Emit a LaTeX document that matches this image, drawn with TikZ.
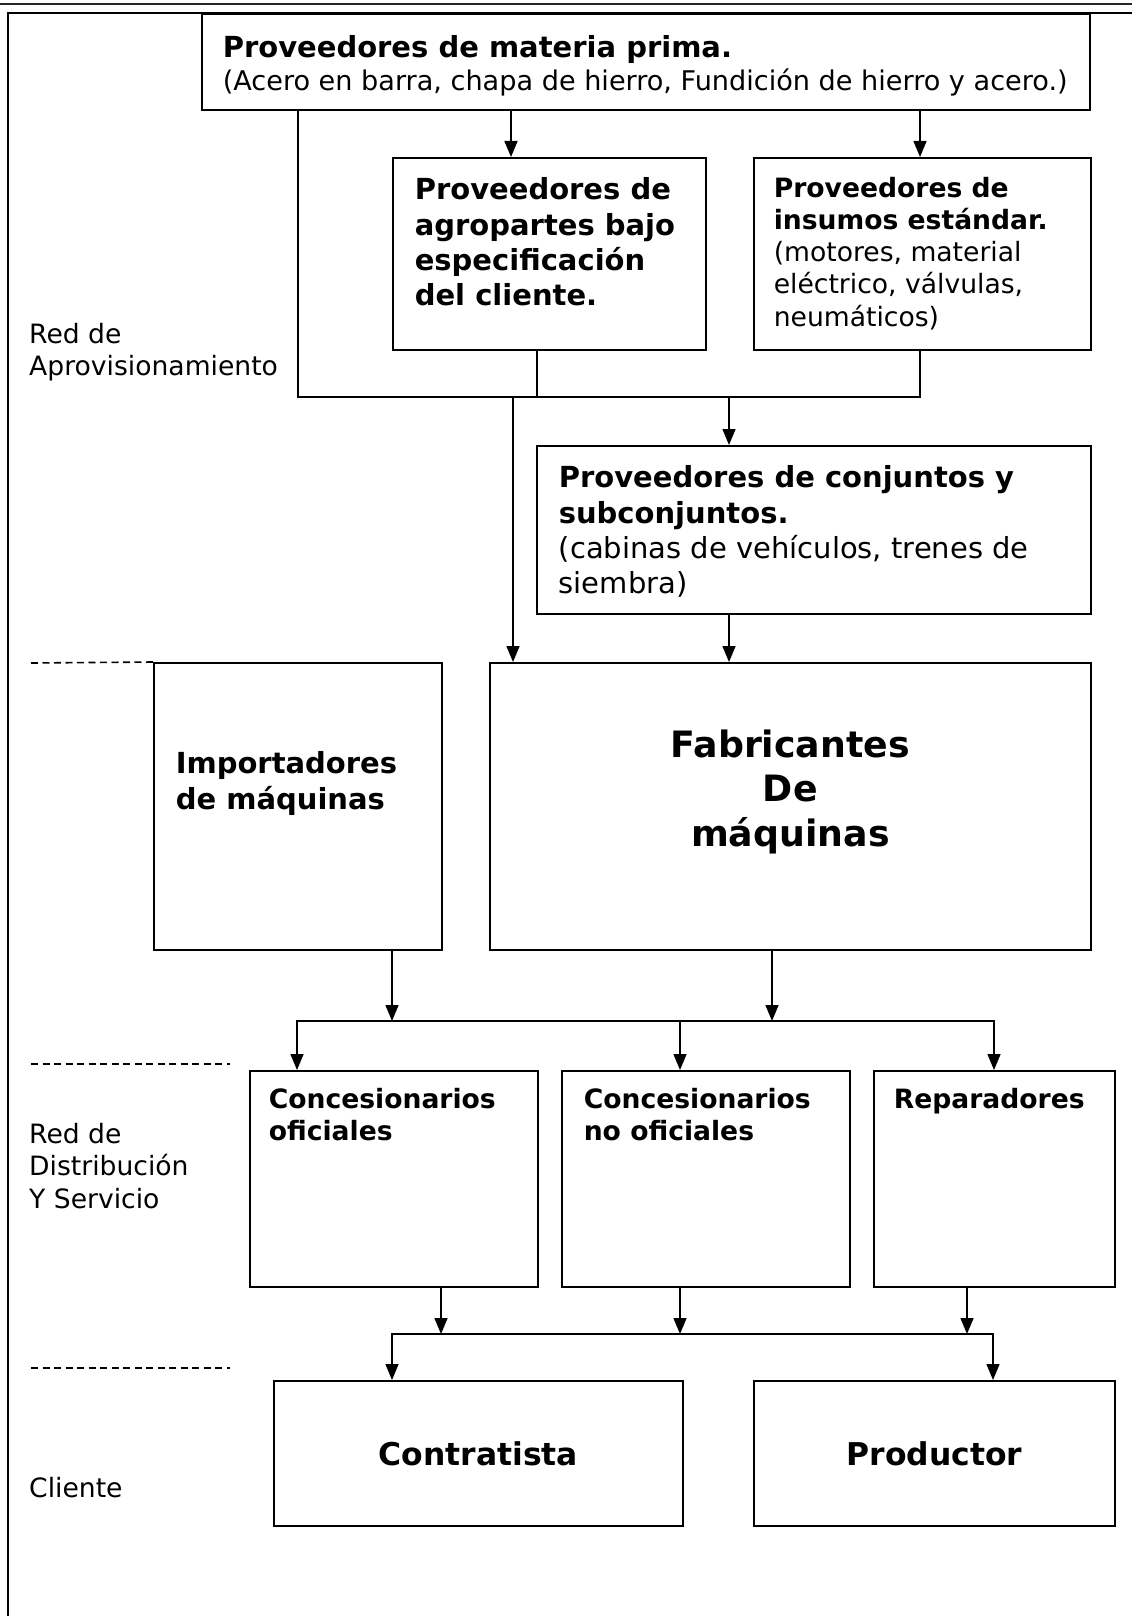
\documentclass[tikz,border=0pt]{standalone}
\usepackage{fontspec}
\setmainfont{DejaVu Sans}
\usepackage{tikz}
\usetikzlibrary{arrows.meta, positioning, calc}

% font sizes (Word points scaled to the picture)
\newcommand{\tamOnce}{\fontsize{26.6pt}{32.3pt}\selectfont}
\newcommand{\tamDoce}{\fontsize{29pt}{35.2pt}\selectfont}
\newcommand{\tamTrece}{\fontsize{31.4pt}{38pt}\selectfont}
\newcommand{\tamQuince}{\fontsize{36.3pt}{44.5pt}\selectfont}
% box text: width, height, top pad, left pad, text
\newcommand{\cajatxt}[5]{\parbox[c][#2][t]{#1}{\vspace*{#3}\raggedright\leftskip=#4\relax #5\par}}
\newcommand{\cajacentro}[4]{\parbox[c][#2][t]{#1}{\vspace*{#3}\centering #4\par}}

\begin{document}
\begin{tikzpicture}[
    x=1pt, y=1pt,
    caja/.style={rectangle, draw=black, line width=1.6pt, anchor=north west, inner sep=0pt},
    rotulo/.style={anchor=north west, inner sep=0pt, align=left, font=\tamOnce},
    flecha/.style={-{Triangle[length=16pt, width=13pt]}, line width=1.5pt},
    linea/.style={line width=1.5pt},
    separador/.style={line width=1.6pt, dash pattern=on 7pt off 4.5pt}
]

\useasboundingbox (0,0) rectangle (1132,-1616);

% Frame
\draw [line width=1.2pt, black!85] (0,-4) -- (1132,-4);
\draw [line width=1.6pt] (8,-1616) -- (8,-13) -- (1132,-13);

% Nodes
\node (materia) [caja] at (201,-13) {\cajatxt{888pt}{96pt}{22pt}{21pt}{{\tamDoce\bfseries Proveedores de materia prima.\par}{\fontsize{27.1pt}{32.3pt}\selectfont (Acero en barra, chapa de hierro, Fundición de hierro y acero.)\par}}};
\node (agro) [caja] at (392,-157) {\cajatxt{313pt}{192pt}{20pt}{22pt}{\tamDoce\bfseries Proveedores de\\agropartes bajo\\especificación\\del cliente.}};
\node (insumos) [caja] at (753,-157) {\cajatxt{337pt}{192pt}{19pt}{20pt}{\tamOnce\textbf{Proveedores de\\insumos estándar.}\\(motores, material\\eléctrico, válvulas,\\neumáticos)}};
\node (conjuntos) [caja] at (536,-445) {\cajatxt{554pt}{168pt}{20pt}{22pt}{\tamDoce\textbf{Proveedores de conjuntos y\\subconjuntos.}\\(cabinas de vehículos, trenes de\\siembra)}};

\node (importadores) [caja] at (153,-662) {\cajatxt{288pt}{287pt}{89pt}{22pt}{\tamDoce\bfseries Importadores\\de máquinas}};
\node (fabricantes) [caja] at (489,-662) {\cajacentro{601pt}{287pt}{67pt}{\tamQuince\bfseries Fabricantes\\De\\máquinas}};

\node (oficiales) [caja] at (249,-1070) {\cajatxt{288pt}{216pt}{17pt}{19pt}{\tamOnce\bfseries Concesionarios\\oficiales}};
\node (nooficiales) [caja] at (561,-1070) {\cajatxt{288pt}{216pt}{17pt}{22pt}{\tamOnce\bfseries Concesionarios\\no oficiales}};
\node (reparadores) [caja] at (873,-1070) {\cajatxt{241pt}{216pt}{17pt}{20pt}{\tamOnce\bfseries Reparadores}};

\node (contratista) [caja, minimum width=409pt, minimum height=145pt, font=\tamTrece\bfseries] at (273,-1380) {Contratista};
\node (productor) [caja, minimum width=361pt, minimum height=145pt, font=\tamTrece\bfseries] at (753,-1380) {Productor};

% Labels on the left
\node (aprov) [rotulo] at (29,-323) {Red de\\Aprovisionamiento};
\node (distrib) [rotulo] at (29,-1123) {Red de\\Distribución\\Y Servicio};
\node (cliente) [rotulo] at (29,-1477) {Cliente};

% Separators
\draw [separador] (31,-663) -- (importadores.north west);
\draw [separador] (31,-1064) -- (230,-1064);
\draw [separador] (31,-1368) -- (230,-1368);

% Columns and buses
\coordinate (colIzq) at (298,0);
\coordinate (colAgro) at (511,0);
\coordinate (colIns) at (920,0);
\coordinate (colBajo) at (537,0);
\coordinate (colFab) at (513,0);
\coordinate (colConj) at (729,0);
\coordinate (colImp) at (392,0);
\coordinate (colFab2) at (772,0);
\coordinate (colNoOf) at (680,0);
\coordinate (colOf2) at (441,0);
\coordinate (colRep2) at (967,0);
\coordinate (bus1) at (0,-397);
\coordinate (bus2a) at (297,-1021);
\coordinate (bus2b) at (994,-1021);
\coordinate (bus3a) at (392,-1334);
\coordinate (bus3b) at (993,-1334);

% Arrows - supply
\draw [linea] (materia.south -| colIzq) -- (colIzq |- bus1) -- (colIns |- bus1) -- (insumos.south -| colIns);
\draw [flecha] (materia.south -| colAgro) -- (agro.north -| colAgro);
\draw [flecha] (materia.south -| colIns) -- (insumos.north -| colIns);
\draw [linea] (agro.south -| colBajo) -- (colBajo |- bus1);
\draw [flecha] (colFab |- bus1) -- (fabricantes.north -| colFab);
\draw [flecha] (colConj |- bus1) -- (conjuntos.north -| colConj);
\draw [flecha] (conjuntos.south -| colConj) -- (fabricantes.north -| colConj);

% Arrows - distribution
\draw [flecha] (importadores.south -| colImp) -- (colImp |- bus2a);
\draw [flecha] (fabricantes.south -| colFab2) -- (colFab2 |- bus2a);
\draw [flecha] (bus2b) -- (bus2a) -- (oficiales.north -| bus2a);
\draw [flecha] (bus2a) -- (bus2b) -- (reparadores.north -| bus2b);
\draw [flecha] (colNoOf |- bus2a) -- (nooficiales.north -| colNoOf);

% Arrows - clients
\draw [flecha] (oficiales.south -| colOf2) -- (colOf2 |- bus3a);
\draw [flecha] (nooficiales.south -| colNoOf) -- (colNoOf |- bus3a);
\draw [flecha] (reparadores.south -| colRep2) -- (colRep2 |- bus3a);
\draw [flecha] (bus3b) -- (bus3a) -- (contratista.north -| bus3a);
\draw [flecha] (bus3a) -- (bus3b) -- (productor.north -| bus3b);

\end{tikzpicture}
\end{document}
